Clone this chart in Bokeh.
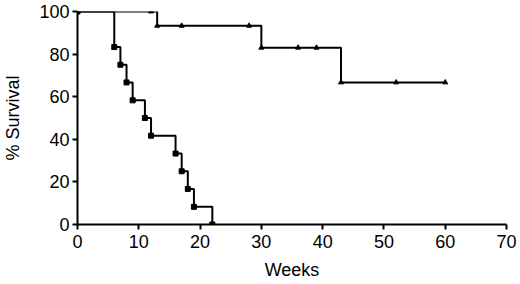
from bokeh.plotting import figure
from bokeh.models import Range1d, FixedTicker
from bokeh.embed import file_html
from bokeh.resources import INLINE

# Group A (upper curve): event times and survival (%)
a_time = [0, 13, 30, 43, 60]
a_surv = [100, 93.3, 83.0, 66.7, 66.7]
# Group A marks (censored / event marks)
a_mark_time = [12, 13, 17, 28, 30, 36, 39, 43, 52, 60]
a_mark_surv = [100, 93.3, 93.3, 93.3, 83.0, 83.0, 83.0, 66.7, 66.7, 66.7]

# Group B (lower curve)
b_time = [0, 6, 7, 8, 9, 11, 12, 16, 17, 18, 19, 22]
b_surv = [100, 83.3, 75.0, 66.7, 58.3, 50.0, 41.7, 33.3, 25.0, 16.7, 8.3, 0]

x_ticks = [0, 10, 20, 30, 40, 50, 60, 70]
y_ticks = [0, 20, 40, 60, 80, 100]

p = figure(width=520, height=284, output_backend="svg", toolbar_location=None,
           x_range=Range1d(0, 70), y_range=Range1d(0, 100),
           min_border_left=72, min_border_right=14, min_border_top=11, min_border_bottom=60)
p.outline_line_color = None
p.grid.visible = False
p.background_fill_color = "white"
p.border_fill_color = "white"

p.step(a_time, a_surv, mode="after", line_color="black", line_width=2)
p.scatter(a_mark_time, a_mark_surv, marker="triangle", size=5, color="black")
p.step(b_time, b_surv, mode="after", line_color="black", line_width=2)
p.scatter(b_time, b_surv, marker="square", size=5, color="black")

p.xaxis.ticker = FixedTicker(ticks=x_ticks)
p.yaxis.ticker = FixedTicker(ticks=y_ticks)
p.xaxis.axis_label = "Weeks"
p.yaxis.axis_label = "% Survival"
for ax in (p.xaxis, p.yaxis):
    ax.axis_line_width = 2
    ax.axis_line_color = "black"
    ax.major_tick_line_width = 2
    ax.major_tick_line_color = "black"
    ax.major_tick_out = 5
    ax.major_tick_in = 0
    ax.minor_tick_line_color = None
    ax.major_label_text_font = "Liberation Sans"
    ax.major_label_text_font_size = "18px"
    ax.major_label_text_color = "black"
    ax.axis_label_text_font = "Liberation Sans"
    ax.axis_label_text_font_size = "18px"
    ax.axis_label_text_font_style = "normal"
    ax.axis_label_text_color = "black"
p.xaxis.major_label_standoff = 5
p.yaxis.major_label_standoff = 3
p.xaxis.axis_label_standoff = 9
p.yaxis.axis_label_standoff = 13

open("out.html", "w").write(file_html(p, INLINE))
